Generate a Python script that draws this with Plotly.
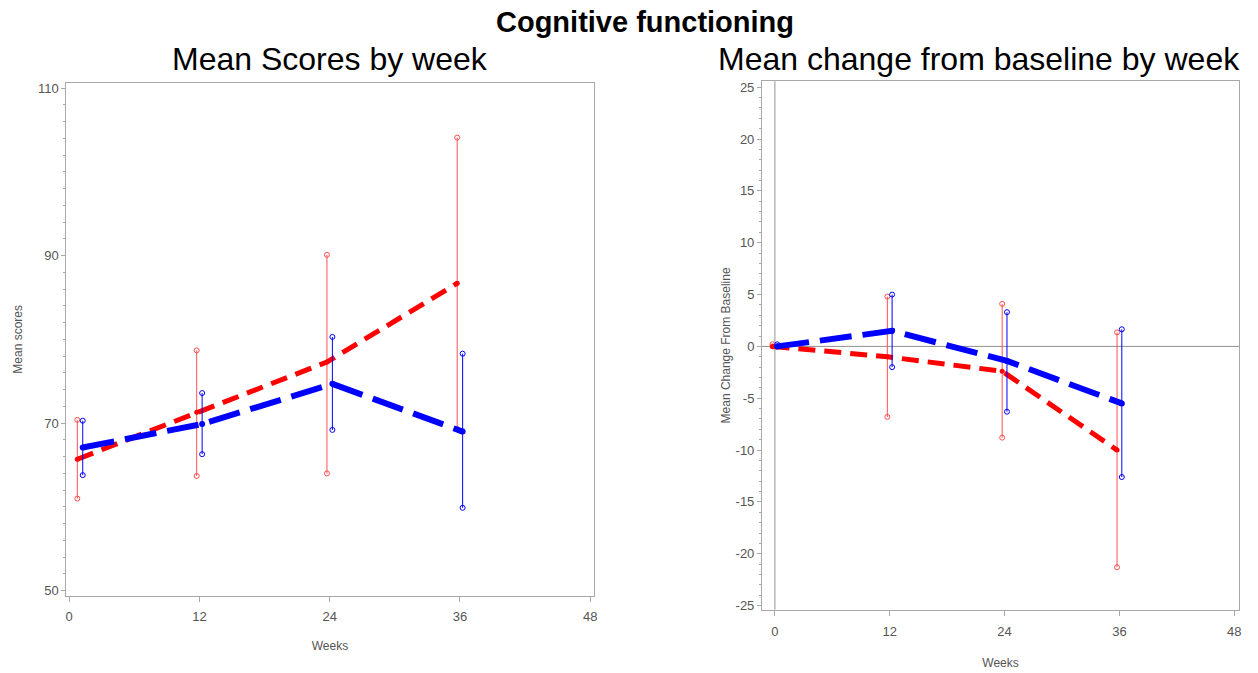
import plotly.graph_objects as go

# Visit weeks and the small horizontal offsets used to separate the two groups
weeks_scores = [1, 12, 24, 36]
weeks_change = [0, 12, 24, 36]
offset_red = -0.25
offset_blue = 0.25

# Mean scores by week (left panel)
red_mean = [65.7, 71.3, 77.3, 86.7]
red_low = [61.0, 63.7, 64.0, 69.3]
red_high = [70.4, 78.7, 90.1, 104.1]
blue_mean = [67.1, 69.9, 74.7, 69.0]
blue_low = [63.8, 66.3, 69.2, 59.9]
blue_high = [70.3, 73.6, 80.3, 78.3]

# Mean change from baseline by week (right panel)
red_chg = [0.0, -1.0, -2.4, -10.0]
red_chg_low = [0.0, -6.8, -8.8, -21.3]
red_chg_high = [0.2, 4.8, 4.1, 1.35]
blue_chg = [0.0, 1.5, -1.4, -5.5]
blue_chg_low = [0.0, -2.0, -6.3, -12.6]
blue_chg_high = [0.2, 5.0, 3.3, 1.65]

x_ticks = [0, 12, 24, 36, 48]
y_ticks_scores = [50, 70, 90, 110]
y_ticks_change = [-25, -20, -15, -10, -5, 0, 5, 10, 15, 20, 25]

RED = "#ff0000"
BLUE = "#0000ff"
RED_BAR = "#ff5050"
W, H = 1258, 673


def shift(xs, d):
    return [x + d for x in xs]


def segments(xs, lo, hi):
    sx, sy = [], []
    for x, a, b in zip(xs, lo, hi):
        sx += [x, x, None]
        sy += [a, b, None]
    return sx, sy


def add_group(fig, xs, mean, lo, hi, color, bar_color, dash, width, msize, xa, ya):
    ex, ey = segments(xs, lo, hi)
    fig.add_trace(go.Scatter(
        x=ex, y=ey, mode="lines+markers", xaxis=xa, yaxis=ya,
        line=dict(color=bar_color, width=1),
        marker=dict(symbol="circle-open", size=5, color=bar_color),
        showlegend=False, hoverinfo="skip"))
    fig.add_trace(go.Scatter(
        x=xs, y=mean, mode="lines+markers", xaxis=xa, yaxis=ya,
        line=dict(color=color, width=width, dash=dash),
        marker=dict(symbol="circle", size=msize, color=color),
        showlegend=False))


fig = go.Figure()

add_group(fig, shift(weeks_scores, offset_red), red_mean, red_low, red_high,
          RED, RED_BAR, "17px,9px", 5, 5, "x", "y")
add_group(fig, shift(weeks_scores, offset_blue), blue_mean, blue_low, blue_high,
          BLUE, BLUE, "32px,11px", 6, 6, "x", "y")
add_group(fig, shift(weeks_change, offset_red), red_chg, red_chg_low, red_chg_high,
          RED, RED_BAR, "17px,9px", 5, 5, "x2", "y2")
add_group(fig, shift(weeks_change, offset_blue), blue_chg, blue_chg_low, blue_chg_high,
          BLUE, BLUE, "32px,11px", 6, 6, "x2", "y2")

tick_font = dict(family="Liberation Sans Narrow, Liberation Sans, Arial", size=13, color="#555555")
title_font = dict(family="Liberation Sans, Arial", size=12, color="#555555")
frame = "#a8a8a8"


def px_x(p):
    return p / W


def px_y(p):
    return 1 - p / H


def labels(vals):
    return [str(v).replace("\u2212", "-") for v in vals]


def x_axis(domain, rng, anchor, label_gap, title_gap):
    return dict(domain=domain, range=rng, anchor=anchor,
                tickvals=x_ticks, ticktext=labels(x_ticks),
                ticks="outside", ticklen=5, tickcolor=frame, ticklabelstandoff=label_gap,
                showline=True, linecolor=frame, mirror=True, showgrid=False,
                zeroline=False, tickfont=tick_font,
                title=dict(text="Weeks", font=title_font, standoff=title_gap))


fig.update_layout(
    width=W, height=H, margin=dict(l=0, r=0, t=0, b=0),
    paper_bgcolor="white", plot_bgcolor="white",
    xaxis=x_axis([px_x(65.6), px_x(595)], [-0.26, 48.32], "y", 4, 18),
    yaxis=dict(domain=[px_y(599), px_y(81.7)], range=[49.41, 110.62], anchor="x",
               tickvals=y_ticks_scores, ticktext=labels(y_ticks_scores),
               ticks="outside", ticklen=4, tickcolor=frame,
               minor=dict(dtick=2, ticks="outside", ticklen=2, tickcolor=frame),
               showline=True, linecolor=frame, mirror=True, showgrid=False, zeroline=False,
               tickfont=tick_font,
               title=dict(text="Mean scores", font=title_font, standoff=12)),
    xaxis2=x_axis([px_x(764), px_x(1243)], [-1.35, 48.5], "y2", 5, 20),
    yaxis2=dict(domain=[px_y(613), px_y(80)], range=[-25.38, 25.57], anchor="x2",
                tickvals=y_ticks_change, ticktext=labels(y_ticks_change),
                ticks="outside", ticklen=4, tickcolor=frame,
                minor=dict(dtick=1, ticks="outside", ticklen=2, tickcolor=frame),
                showline=True, linecolor=frame, mirror=True, showgrid=False, zeroline=False,
                tickfont=tick_font,
                title=dict(text="Mean Change From Baseline", font=title_font, standoff=2)),
)

# Reference lines at zero change and at baseline week
fig.add_shape(type="line", xref="x2 domain", yref="y2", x0=0, x1=1, y0=0, y1=0,
              line=dict(color="#909090", width=1), layer="below")
fig.add_shape(type="line", xref="x2", yref="y2 domain", x0=0, x1=0, y0=0, y1=1,
              line=dict(color="#909090", width=1), layer="below")

fig.add_annotation(text="<b>Cognitive functioning</b>", xref="paper", yref="paper",
                   x=px_x(647), y=px_y(20), showarrow=False, xanchor="center", yanchor="middle",
                   font=dict(family="Liberation Sans, Arial", size=29, color="black"))
fig.add_annotation(text="Mean Scores by week", xref="paper", yref="paper",
                   x=px_x(330), y=px_y(58), showarrow=False, xanchor="center", yanchor="middle",
                   font=dict(family="Liberation Sans, Arial", size=32, color="black"))
fig.add_annotation(text="Mean change from baseline by week", xref="paper", yref="paper",
                   x=px_x(982), y=px_y(58), showarrow=False, xanchor="center", yanchor="middle",
                   font=dict(family="Liberation Sans, Arial", size=32, color="black"))

fig.write_html("out.html")
